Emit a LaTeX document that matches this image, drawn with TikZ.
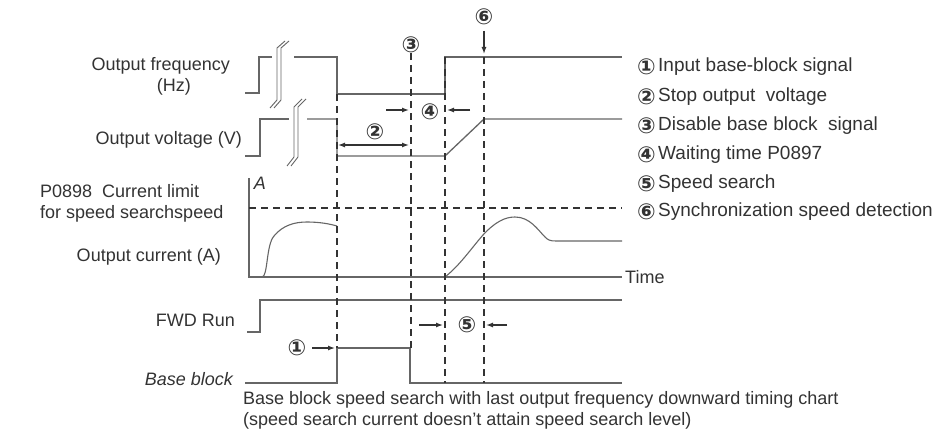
\documentclass[tikz,border=0pt]{standalone}
\usepackage{fontspec}
\setmainfont{Liberation Sans}[Ligatures=ResetAll]
\newfontfamily\symfont{DejaVu Sans}
\usetikzlibrary{arrows.meta}
\definecolor{trace}{HTML}{666666}
\definecolor{ink}{HTML}{333333}
\begin{document}
\begin{tikzpicture}[x=1pt,y=-1pt,
  lbl/.style={inner sep=0pt,text=ink,font=\fontsize{18}{21}\selectfont},
  leg/.style={inner sep=0pt,text=ink,font=\fontsize{19}{21}\selectfont},
  num/.style={inner sep=0pt,text=ink,font=\symfont\bfseries\fontsize{22}{22}\selectfont},
  wave/.style={draw=trace,line width=1.3pt},
  brk/.style={draw=trace,line width=0.9pt},
  dsh/.style={draw=ink,line width=2pt,dash pattern=on 7pt off 5pt},
  arr/.style={draw=ink,line width=1.3pt,-{Latex[length=7pt,width=5pt]}},
  darr/.style={draw=ink,line width=1.3pt,{Latex[length=7pt,width=5pt]}-{Latex[length=7pt,width=5pt]}}]
\useasboundingbox[fill=white] (0,0) rectangle (943,436);

% left labels
\node[lbl,anchor=east] (lfreq) at (230,66) {Output frequency};
\node[lbl,anchor=east] (lhz) at (191,87) {(Hz)};
\node[lbl,anchor=east] (lvolt) at (242,140) {Output voltage (V)};
\node[lbl,anchor=west,align=left] (llimit) at (40,203) {P0898\ \ Current limit\\for speed searchspeed};
\node[lbl,anchor=east] (lcur) at (221,257) {Output current (A)};
\node[lbl,anchor=east] (lfwd) at (235,320) {FWD Run};
\node[lbl,anchor=east,font=\fontsize{18}{21}\selectfont\itshape] (lbb) at (233,379) {Base block};
\node[lbl,anchor=center,font=\fontsize{18}{21}\selectfont\itshape] (la) at (260,183) {A};
\node[lbl,anchor=west] (ltime) at (625,277) {Time};

% caption
\node[lbl,anchor=north west,align=left] (cap) at (243,391) {Base block speed search with last output frequency downward timing chart\\(speed search current doesn't attain speed search level)};

% legend
\foreach \n/\t/\y in {{①}/{Input base-block signal}/67, {②}/{Stop output\ \ voltage}/97, {③}/{Disable base block\ \ signal}/126, {④}/{Waiting time P0897}/155, {⑤}/{Speed search}/184, {⑥}/{Synchronization speed detection}/212}{
  \node[num,anchor=west] (g\y) at (637,\y) {\n};
  \node[leg,anchor=west] (t\y) at (658,\y) {\t};
}

% output frequency
\draw[wave] (245,93) -- (259,93) -- (259,57) -- (272,57);
\draw[wave] (294,57) -- (337,57) -- (337,94) -- (445,94) -- (445,57) -- (622,57);
\draw[brk] (270,108) -- (277,100) -- (277,48) -- (285,41);
\draw[brk] (274,108) -- (281,100) -- (281,48) -- (289,41);
% output voltage
\draw[wave] (245,156) -- (260,156) -- (260,119) -- (289,119);
\draw[wave] (307,119) -- (337,119) -- (337,156) -- (445,156) -- (484,119) -- (622,119);
\draw[brk] (287,166) -- (294,157) -- (294,107) -- (302,99);
\draw[brk] (291,166) -- (298,157) -- (298,107) -- (306,99);

% output current
\draw[wave,line width=1.1pt] (249,178) -- (249,277) -- (622,277);
\draw[dsh,line width=1.6pt] (249,208) -- (622,208);
\draw[wave,line width=1.1pt] (262,277) .. controls (268,277) and (266,245) .. (274,236)
  .. controls (283,225) and (295,222) .. (307,222) .. controls (320,222) and (330,224) .. (337,226);
\draw[wave,line width=1.1pt] (445,277) .. controls (460,265) and (470,250) .. (483,235)
  .. controls (495,222) and (505,217) .. (515,217) .. controls (530,217) and (538,230) .. (545,237)
  .. controls (548,240) and (550,241) .. (556,241) -- (622,241);

% FWD run
\draw[wave] (247,332) -- (260,332) -- (260,300) -- (622,300);
% base block
\draw[wave] (245,383) -- (337,383) -- (337,348) -- (410,348) -- (410,383) -- (622,383);

% dashed verticals
\draw[dsh] (337,94) -- (337,348);
\draw[dsh] (411,53) -- (411,348);
\draw[dsh] (445,57) -- (445,383);
\draw[dsh] (484,57) -- (484,383);

% annotations
\node[num] (n3) at (411,45) {③};
\node[num] (n6) at (484,17) {⑥};
\node[num] (n4) at (430,112) {④};
\node[num] (n2) at (375,132) {②};
\node[num] (n1) at (297,348) {①};
\node[num] (n5) at (467,325) {⑤};

\coordinate (a6s) at (484,31); \coordinate (a6e) at (484,54);
\draw[arr] (a6s) -- (a6e);
\coordinate (a4a) at (386,110); \coordinate (a4b) at (409,110);
\coordinate (a4c) at (470,110); \coordinate (a4d) at (447,110);
\draw[arr] (a4a) -- (a4b);
\draw[arr] (a4c) -- (a4d);
\coordinate (a2a) at (338,145); \coordinate (a2b) at (409,145);
\draw[darr] (a2a) -- (a2b);
\coordinate (a1s) at (312,348); \coordinate (a1e) at (335,348);
\draw[arr] (a1s) -- (a1e);
\coordinate (a5a) at (419,325); \coordinate (a5b) at (443,325);
\coordinate (a5c) at (507,325); \coordinate (a5d) at (486,325);
\draw[arr] (a5a) -- (a5b);
\draw[arr] (a5c) -- (a5d);
\end{tikzpicture}
\end{document}
